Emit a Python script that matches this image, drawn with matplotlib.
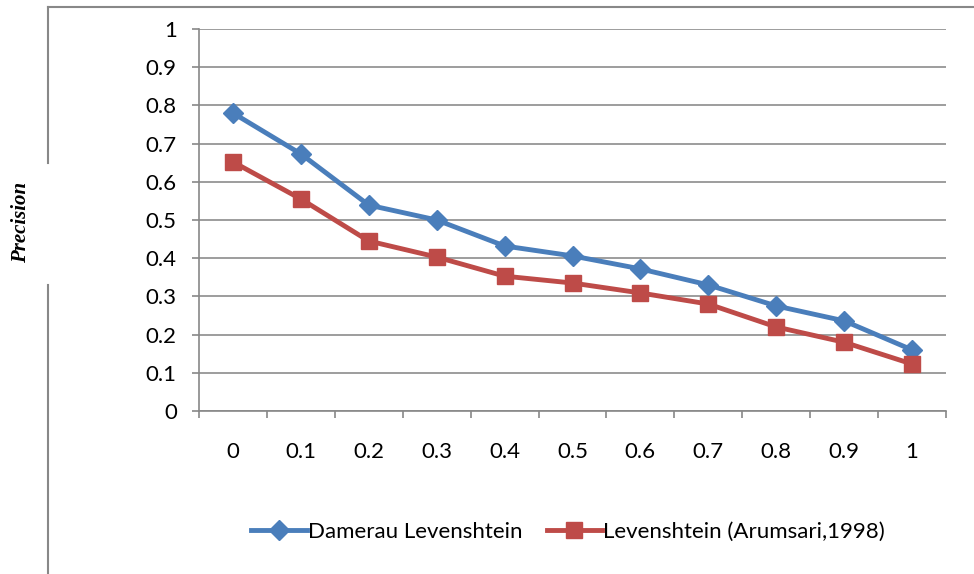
import numpy as np
import matplotlib
matplotlib.use("Agg")
import matplotlib.pyplot as plt
from matplotlib.lines import Line2D

# threshold categories and precision values
thresholds = ["0", "0.1", "0.2", "0.3", "0.4", "0.5", "0.6", "0.7", "0.8", "0.9", "1"]
damerau = [0.78, 0.673, 0.539, 0.50, 0.432, 0.406, 0.372, 0.33, 0.275, 0.236, 0.16]
leven = [0.652, 0.555, 0.445, 0.403, 0.353, 0.335, 0.309, 0.28, 0.22, 0.18, 0.123]
yticklabels = ["0", "0.1", "0.2", "0.3", "0.4", "0.5", "0.6", "0.7", "0.8", "0.9", "1"]

blue = "#4A7EBB"
red = "#BE4B48"

plt.rcParams['font.family'] = ['Lato', 'DejaVu Sans']

fig = plt.figure(figsize=(9.74, 5.74), dpi=100)
W, H = 974, 574

# outer chart frame (broken where the y label sits)
frame = dict(color="#888888", lw=1.5, transform=fig.transFigure)
fig.add_artist(Line2D([48 / W, 1], [1 - 7 / H, 1 - 7 / H], **frame))
fig.add_artist(Line2D([48 / W, 48 / W], [1 - 7 / H, 1 - 163 / H], **frame))
fig.add_artist(Line2D([48 / W, 48 / W], [1 - 285 / H, 0], **frame))

ax = fig.add_axes([199 / W, 1 - 411 / H, (946 - 199) / W, (411 - 29) / H])

x = np.arange(len(thresholds))
ax.plot(x, damerau, color=blue, lw=3.5, marker="D", ms=10.5, label="Damerau Levenshtein")
ax.plot(x, leven, color=red, lw=3.5, marker="s", ms=11.5, label="Levenshtein (Arumsari,1998)")

ax.set_xlim(-0.5, len(thresholds) - 0.5)
ax.set_ylim(0, 1)
ax.set_yticks(np.arange(0, 1.01, 0.1))
ax.set_yticklabels(yticklabels)
ax.set_xticks(x)
ax.set_xticklabels(thresholds)
ax.set_xticks(np.arange(-0.5, len(thresholds)), minor=True)
ax.tick_params(axis="x", which="major", length=0, pad=22, labelsize=16)
ax.tick_params(axis="x", which="minor", length=5, color="#888888", width=1.2)
ax.tick_params(axis="y", length=5, color="#888888", width=1.2, labelsize=16, pad=11)

ax.grid(axis="y", color="#8c8c8c", lw=1.2)
ax.set_axisbelow(True)
for s in ["top", "right"]:
    ax.spines[s].set_visible(False)
ax.spines["left"].set_color("#888888")
ax.spines["bottom"].set_color("#888888")
ax.spines["left"].set_linewidth(1.2)
ax.spines["bottom"].set_linewidth(1.2)

fig.text(21 / W, 1 - 222 / H, "Precision", rotation=90, ha="center", va="center",
         family="Liberation Serif", style="italic", weight="bold", fontsize=15)

fig.legend(loc="center", bbox_to_anchor=(568 / W, 1 - 532 / H), ncol=2, frameon=False,
           fontsize=16, handlelength=2.5, handletextpad=0.05, columnspacing=1.1)

fig.savefig("out.png", dpi=100)
